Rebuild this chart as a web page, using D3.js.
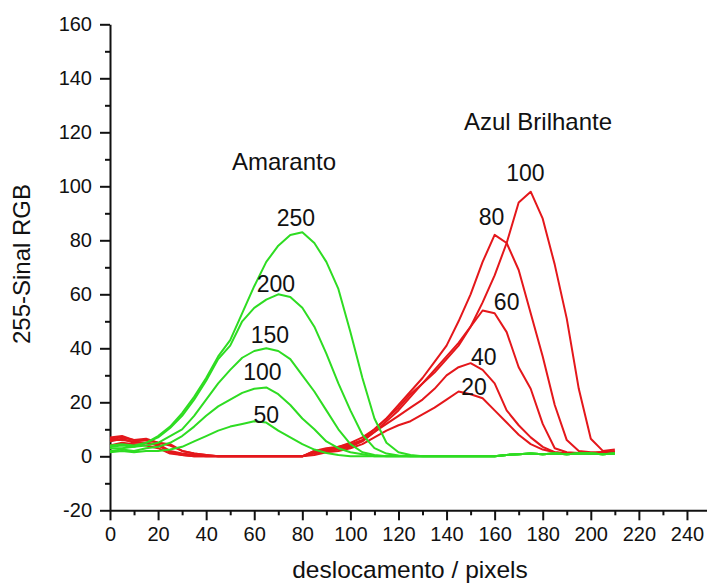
<!DOCTYPE html>
<html>
<head>
<meta charset="utf-8">
<script src="https://cdn.jsdelivr.net/npm/d3@7"></script>
<style>
  body { margin: 0; background: #fff; }
  text { font-family: "Liberation Sans", Arial, sans-serif; fill: #111; }
</style>
</head>
<body>
<svg id="canvas" width="707" height="585"></svg>
<script>
// x positions (deslocamento / pixels), shared by every curve
let xs = d3.range(0, 211, 5)

// Amaranto (green)
let am50  = [1.5,2,1.5,2,2,2.5,3.5,5.5,7.5,9.5,11,12,13,12.5,9.5,7,4.5,2.5,1.2,0.5,0,0,0,0,0,0,0,0,0,0,0,0,0,0.5,0.8,1,0.8,1,0.8,1,1,0.8,1]
let am100 = [2,2.5,2,3,3.5,5,7.5,11,15,18.5,21,23.5,25,25.5,23,19,14,10,5.5,3,1.5,0.8,0,0,0,0,0,0,0,0,0,0,0,0.5,0.8,1,0.8,1,0.8,1,1,0.8,1]
let am150 = [3,3,3.5,4,5,7.5,10,15,21,27,32,36.5,39,40,39,36,30,24,17,10,4.5,1.5,0.5,0,0,0,0,0,0,0,0,0,0,0.5,0.8,1,0.8,1,0.8,1,1,0.8,1]
let am200 = [3.5,4,3.5,5,7,10.5,15,21,28,36,41,50,55,58,60,59,55,48,38,27,17,8,3,1,0.3,0,0,0,0,0,0,0,0,0.5,0.8,1,0.8,1,0.8,1,1,0.8,1]
let am250 = [4,4.5,4,5,7.5,11,16,22,29,37,43,53,63,72,78,82,83,79,72,62,46,29,14,5,1.5,0.5,0,0,0,0,0,0,0,0.5,0.8,1,0.8,1,0.8,1,1,0.8,1]

// Azul Brilhante (red)
let az20  = [4,5,4.5,4,3,1,0.5,0,0,0,0,0,0,0,0,0,0,0.5,1.5,2,3,4.5,7,9.5,11.5,13,15.5,18,21,24,23,21.5,17,12.5,8,4.5,2.5,1.5,1,1.2,1,1.5,1.5]
let az40  = [5.5,6.5,5,5,4.5,2,1,0.5,0,0,0,0,0,0,0,0,0,1,2,2.5,3.5,5.5,9,12,15,18,21,25,30,33,34.5,32,27,17,11.5,7,3.5,1.5,1,1.2,1,1.5,1.5]
let az60  = [7,7.5,6,6.5,5,4,2,1,0.5,0,0,0,0,0,0,0,0,1.5,2.5,3,4,6,10,14,18,23,27,31,36,41,48,54,53,46,33,25,12,3,1.5,1.2,1,1.5,1.5]
let az80  = [6,6,5.5,5,4,1.5,0.5,0,0,0,0,0,0,0,0,0,0,2,2.5,3.5,5,7,10,14,19,24,29,35,41,50,60,72,82,79,69,53,37,19,6,2,1.5,1.5,2]
let az100 = [6.5,7,6,6,5,4.5,2,1,0.5,0,0,0,0,0,0,0,0,2,3,3.5,4.5,6,9,13,17,22,27,32,37,42,48,57,67,79,94,98,88,71,51,25,6.5,2,2.5]

let greenSeries = [am50, am100, am150, am200, am250]
let redSeries = [az20, az40, az60, az80, az100]

let greenLabels = ['50', '100', '150', '200', '250']
let greenLabelAt = [[65, 12.2], [63.4, 28.3], [66.5, 41.9], [69, 61], [77.3, 85.3]]
let redLabels = ['20', '40', '60', '80', '100']
let redLabelAt = [[151.4, 22.7], [155.5, 33.8], [165, 54.2], [158.7, 85.7], [172.8, 102]]

let xTicks = d3.range(0, 241, 20)
let yTicks = d3.range(-20, 161, 20)

let width = 707
let height = 585

let canvas = d3.select('#canvas')

let xScale = d3.scaleLinear().domain([0, 250]).range([110, 711])
let yScale = d3.scaleLinear().domain([-20, 160]).range([510.3, 24.3])

let green = '#2edc22'
let red = '#e4171b'

// minor ticks first
canvas.append('g')
      .attr('transform', 'translate(0,' + yScale(-20) + ')')
      .call(d3.axisBottom(xScale).tickValues(d3.range(10, 250, 20)).tickSize(5).tickFormat(''))
      .call(g => g.select('.domain').remove())
canvas.append('g')
      .attr('transform', 'translate(' + xScale(0) + ',0)')
      .call(d3.axisLeft(yScale).tickValues(d3.range(-10, 160, 20)).tickSize(5).tickFormat(''))
      .call(g => g.select('.domain').remove())

let xAxis = canvas.append('g')
      .attr('transform', 'translate(0,' + yScale(-20) + ')')
      .call(d3.axisBottom(xScale).tickValues(xTicks).tickSize(10).tickSizeOuter(0).tickPadding(7).tickFormat(d => String(d)))
xAxis.selectAll('text').attr('font-size', 20)

let yAxis = canvas.append('g')
      .attr('transform', 'translate(' + xScale(0) + ',0)')
      .call(d3.axisLeft(yScale).tickValues(yTicks).tickSize(10).tickSizeOuter(0).tickPadding(8).tickFormat(d => String(d)))
yAxis.selectAll('text').attr('font-size', 20)

canvas.selectAll('.domain, .tick line').attr('stroke', '#111').attr('stroke-width', 2)

let line = d3.line()
             .x((d, i) => xScale(xs[i]))
             .y(d => yScale(d))

canvas.selectAll('path.red')
      .data(redSeries)
      .enter()
      .append('path')
      .attr('class', 'red')
      .attr('d', line)
      .attr('fill', 'none')
      .attr('stroke', red)
      .attr('stroke-width', 2)
      .attr('stroke-linejoin', 'round')

canvas.selectAll('path.green')
      .data(greenSeries)
      .enter()
      .append('path')
      .attr('class', 'green')
      .attr('d', line)
      .attr('fill', 'none')
      .attr('stroke', green)
      .attr('stroke-width', 2)
      .attr('stroke-linejoin', 'round')

let labels = greenLabels.map((t, i) => [t, greenLabelAt[i]])
                        .concat(redLabels.map((t, i) => [t, redLabelAt[i]]))
canvas.selectAll('text.lbl')
      .data(labels)
      .enter()
      .append('text')
      .attr('class', 'lbl')
      .attr('x', d => xScale(d[1][0]))
      .attr('y', d => yScale(d[1][1]))
      .attr('text-anchor', 'middle')
      .attr('font-size', 23)
      .text(d => d[0])

canvas.append('text')
      .attr('x', 284)
      .attr('y', 170)
      .attr('text-anchor', 'middle')
      .attr('font-size', 24)
      .text('Amaranto')

canvas.append('text')
      .attr('x', 538)
      .attr('y', 130)
      .attr('text-anchor', 'middle')
      .attr('font-size', 24)
      .text('Azul Brilhante')

canvas.append('text')
      .attr('x', 410)
      .attr('y', 578)
      .attr('text-anchor', 'middle')
      .attr('font-size', 24.5)
      .text('deslocamento / pixels')

canvas.append('text')
      .attr('transform', 'translate(30,264) rotate(-90)')
      .attr('text-anchor', 'middle')
      .attr('font-size', 24)
      .text('255-Sinal RGB')
</script>
</body>
</html>
